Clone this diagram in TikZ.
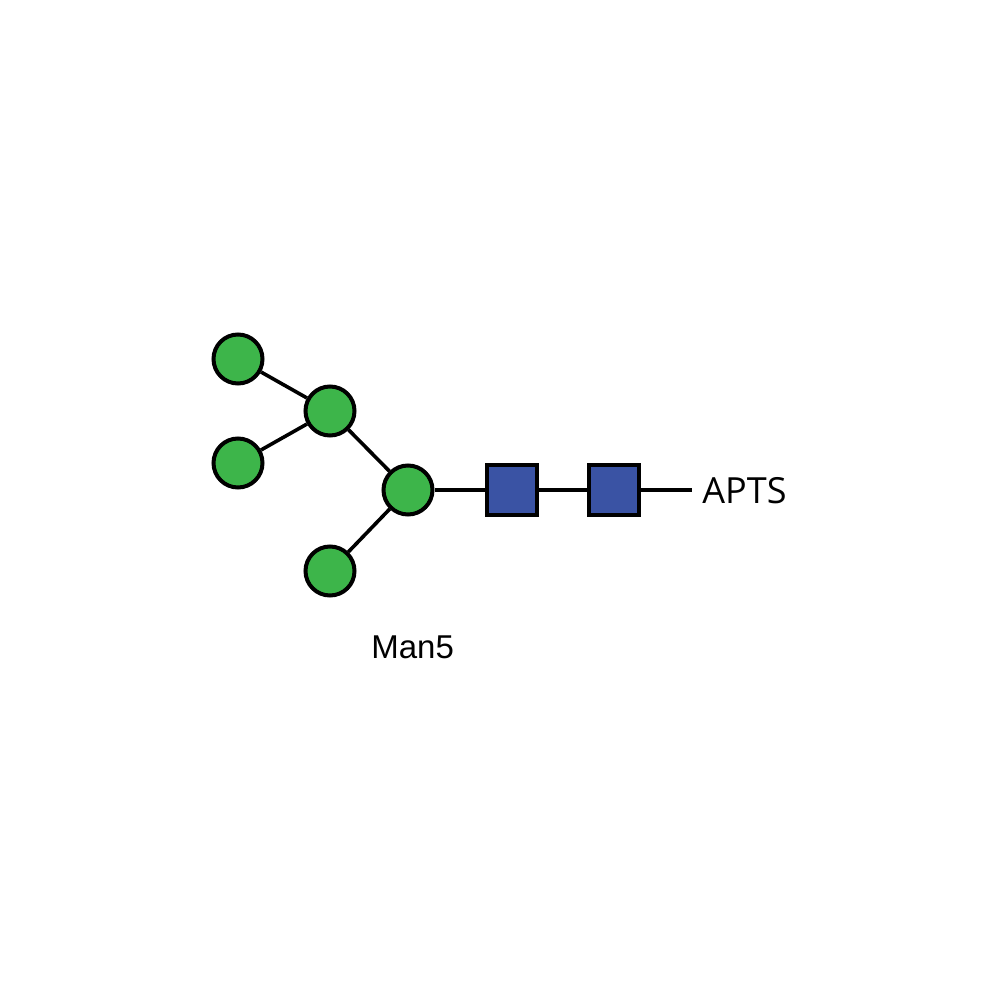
\documentclass[tikz,border=0pt]{standalone}
\usepackage{fontspec}
\setmainfont{Liberation Sans}
\newfontfamily\aptsfont{Open Sans}
\definecolor{mangreen}{HTML}{3DB54A}
\definecolor{glcblue}{HTML}{3A53A4}
\begin{document}
\begin{tikzpicture}[x=0.5pt,y=-0.5pt,
  man/.style={circle,draw=black,line width=2pt,fill=mangreen,minimum size=24.5pt,inner sep=0pt},
  glc/.style={rectangle,draw=black,line width=2pt,fill=glcblue,minimum size=25pt,inner sep=0pt},
  bond/.style={draw=black,line width=1.8pt}]
\useasboundingbox (0,0) rectangle (1000,1000);
\fill[white] (0,0) rectangle (1000,1000);
\coordinate (end) at (692,490);
\node[man] (m1) at (238,359) {};
\node[man] (m2) at (330,411) {};
\node[man] (m3) at (238,463) {};
\node[man] (m4) at (408,490) {};
\node[man] (m5) at (330,571) {};
\node[glc] (g1) at (512,490) {};
\node[glc] (g2) at (614,490) {};
\draw[bond] (m1) -- (m2);
\draw[bond] (m3) -- (m2);
\draw[bond] (m2) -- (m4);
\draw[bond] (m5) -- (m4);
\draw[bond] (m4) -- (g1);
\draw[bond] (g1) -- (g2);
\draw[bond] (g2) -- (end);
\node[anchor=base west,inner sep=0pt,font=\aptsfont\fontsize{18}{20}\selectfont] (apts) at (702,503) {APTS};
\node[anchor=base west,inner sep=0pt,font=\fontsize{16.5}{20}\selectfont] (man5) at (371,658) {Man5};
\end{tikzpicture}
\end{document}
